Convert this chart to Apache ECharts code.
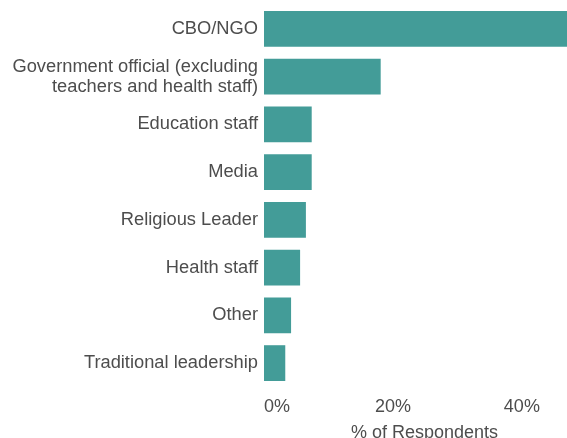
<!DOCTYPE html>
<html><head><meta charset="utf-8">
<script src="https://cdn.jsdelivr.net/npm/echarts@6/dist/echarts.min.js"></script>
<style>html,body{margin:0;padding:0;background:#fff}#c{width:567px;height:438px}</style>
</head><body><div id="c"></div>
<script>
const categories = ["CBO/NGO","Government official (excluding\nteachers and health staff)","Education staff","Media","Religious Leader","Health staff","Other","Traditional leadership"];
const values = [47.5, 18.1, 7.4, 7.4, 6.5, 5.6, 4.2, 3.3];
const tickLabels = ["0%","20%","40%"];
const chart = echarts.init(document.getElementById('c'), null, {renderer:'canvas'});
chart.setOption({
  animation:false,
  grid:{left:264, right:0, top:5, bottom:51, containLabel:false, outerBoundsMode:'none'},
  xAxis:{type:'value', min:0, max:47, interval:20,
    name:'% of Respondents', nameLocation:'middle', nameGap:37,
    nameTextStyle:{color:'#4d4d4d', fontSize:18, fontFamily:'Liberation Sans', padding:[0,0,0,18]},
    axisLine:{show:false}, axisTick:{show:false}, splitLine:{show:false},
    axisLabel:{color:'#4d4d4d', fontSize:18, fontFamily:'Liberation Sans', margin:11, alignMinLabel:'left', showMaxLabel:false,
      formatter:v=>(v % 20 === 0 ? tickLabels[v/20] : '')}},
  yAxis:{type:'category', data:categories, inverse:true,
    axisLine:{show:false}, axisTick:{show:false},
    axisLabel:{color:'#4d4d4d', fontSize:18.3, fontFamily:'Liberation Sans', margin:6, lineHeight:20}},
  series:[{type:'bar', data:values, barWidth:'75%', itemStyle:{color:'#439c98'}, clip:true}]
});
</script></body></html>
